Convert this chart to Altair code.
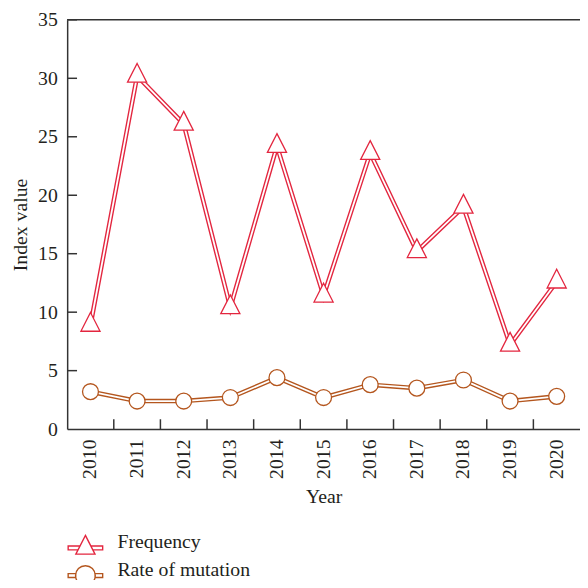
import altair as alt
import pandas as pd

years = ["2010", "2011", "2012", "2013", "2014", "2015", "2016", "2017", "2018", "2019", "2020"]
frequency = [8.9, 30.2, 26.1, 10.4, 24.2, 11.4, 23.6, 15.2, 19.0, 7.2, 12.6]
rate_of_mutation = [3.2, 2.4, 2.4, 2.7, 4.4, 2.7, 3.8, 3.5, 4.2, 2.4, 2.8]
series_names = ["Frequency", "Rate of mutation"]
series_colors = ["#E3263F", "#B4561E"]
y_ticks = [0, 5, 10, 15, 20, 25, 30, 35]

rows = []
for yr, f, r in zip(years, frequency, rate_of_mutation):
    rows.append({"year": yr, "series": "Frequency", "value": f})
    rows.append({"year": yr, "series": "Rate of mutation", "value": r})
df = pd.DataFrame(rows)

W, H = 520, 415
FONT = "Liberation Serif"
TEXT = "#231f20"
AX = "#333333"

tri = "M0,-1.27L0.97,0.63L-0.97,0.63Z"
tri_leg = ("M0,-0.72L0.97,1.18L-0.97,1.18Z "
           "M-1.75,0.35L-0.546,0.35L-0.75,0.75L-1.75,0.75Z "
           "M1.75,0.35L0.546,0.35L0.75,0.75L1.75,0.75Z")
circ_leg = ("M-1,0.55A1,1 0 1,0 1,0.55A1,1 0 1,0 -1,0.55Z "
            "M-1.75,0.35L-0.98,0.35L-0.98,0.75L-1.75,0.75Z "
            "M1.75,0.35L0.98,0.35L0.98,0.75L1.75,0.75Z")

xscale = alt.Scale(type="band", domain=years, paddingInner=0, paddingOuter=0)
yscale = alt.Scale(domain=[0, 35], nice=False, zero=True)

xaxis = alt.Axis(title="Year", labelAngle=-90, labelPadding=10, ticks=False, tickSize=0,
                 grid=False, domainColor=AX, domainWidth=1.5,
                 labelFont=FONT, labelFontSize=20, labelColor=TEXT,
                 titleFont=FONT, titleFontSize=20, titleFontWeight="normal", titleColor=TEXT,
                 titleBaseline="alphabetic", titleY=74)
yaxis = alt.Axis(title="Index value", values=y_ticks, labelPadding=10, ticks=False, tickSize=0,
                 grid=False, domainColor=AX, domainWidth=1.5,
                 labelFont=FONT, labelFontSize=20, labelColor=TEXT,
                 titleFont=FONT, titleFontSize=20, titleFontWeight="normal", titleColor=TEXT,
                 titleX=-37)

x_enc = alt.X("year:N", scale=xscale, axis=xaxis, sort=years)
y_enc = alt.Y("value:Q", scale=yscale, axis=yaxis)

color_scale = alt.Scale(domain=series_names, range=series_colors)

base = alt.Chart(df).encode(x=x_enc, y=y_enc)

line_c = base.mark_line(strokeWidth=4.6).encode(
    color=alt.Color("series:N", scale=color_scale, legend=None))
line_w = base.mark_line(strokeWidth=1.8, color="white").encode(detail="series:N")

points_f = base.transform_filter(alt.datum.series == "Frequency").mark_point(
    shape=tri, size=400, filled=False, fill="white", stroke=series_colors[0],
    strokeWidth=1.3, opacity=1)
points_r = base.transform_filter(alt.datum.series == "Rate of mutation").mark_point(
    shape="circle", size=260, filled=False, fill="white", stroke=series_colors[1],
    strokeWidth=1.3, opacity=1)

leg = dict(orient="none", legendX=7.5, legendY=519, title=None, padding=0,
           labelFont=FONT, labelFontSize=20, labelColor=TEXT, labelOffset=21.5,
           labelLimit=400, rowPadding=2, symbolSize=400,
           symbolStrokeWidth=1.4, symbolFillColor="white")
legend_layer = alt.Chart(df).transform_filter("false").mark_point(
    filled=False, fill="white", strokeWidth=1.4, size=400, opacity=1).encode(
    color=alt.Color("series:N", scale=color_scale, legend=alt.Legend(**leg)),
    shape=alt.Shape("series:N", scale=alt.Scale(domain=series_names, range=[tri_leg, circ_leg]),
                    legend=alt.Legend(**leg)),
)

ytick_df = pd.DataFrame({"value": y_ticks[1:]})
ytick_layer = alt.Chart(ytick_df).mark_rule(color=AX, strokeWidth=1.5).encode(
    y=y_enc, x=alt.value(0), x2=alt.value(10))

xtick_df = pd.DataFrame({"year": years[1:]})
xtick_layer = alt.Chart(xtick_df).mark_rule(color=AX, strokeWidth=1.5).encode(
    x=alt.X("year:N", scale=xscale, axis=xaxis, sort=years, bandPosition=0),
    y=alt.value(H), y2=alt.value(H - 10))

top_layer = alt.Chart(pd.DataFrame({"a": [0]})).mark_rule(color=AX, strokeWidth=1.5).encode(
    x=alt.value(0), x2=alt.value(W), y=alt.value(0))

chart = alt.layer(
    ytick_layer, xtick_layer, top_layer, line_c, line_w, points_f, points_r, legend_layer
).resolve_scale(
    color="independent", shape="independent"
).properties(
    width=W, height=H,
    autosize=alt.AutoSizeParams(type="none"),
    padding={"left": 60, "top": 8, "right": 0, "bottom": 149},
    background="white",
).configure_view(stroke=None)

chart.save("out.html", embed_options={"renderer": "svg", "actions": False})
